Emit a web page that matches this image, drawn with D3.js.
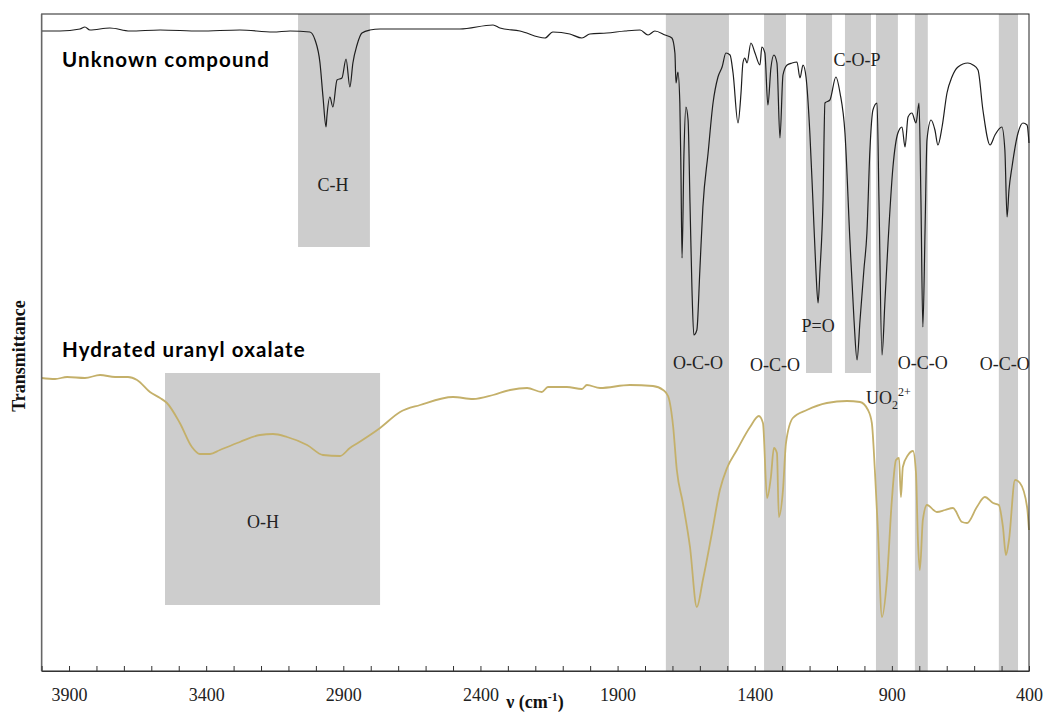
<!DOCTYPE html>
<html>
<head>
<meta charset="utf-8">
<script src="https://cdn.jsdelivr.net/npm/d3@7"></script>
<style>
  body { margin: 0; background: #fff; }
  svg { display: block; }
  .tick text { font-family: "Liberation Serif", "Times New Roman", serif; font-size: 18px; }
</style>
</head>
<body>
<svg width="1044" height="718"></svg>
<script>
// wavenumber (cm-1), transmittance (arbitrary units)
var unknownCompound = [
  [4000,640],[3933,640],[3860,642],[3842,644],[3824,641],[3751,643],[3678,640],[3568,641],
  [3423,640],[3277,641],[3156,639],[3094,640],[3022,639],[3003,631],[2985,608],[2974,574],
  [2963,544],[2960,554],[2949,574],[2938,564],[2923,591],[2905,593],[2890,612],[2876,584],
  [2865,608],[2850,626],[2832,638],[2803,641],[2766,642],[2620,642],[2475,642],[2354,646],
  [2329,643],[2256,640],[2165,633],[2136,639],[2074,637],[2030,633],[2001,637],[1939,638],
  [1873,640],[1818,641],[1789,636],[1764,640],[1727,636],[1702,633],[1691,618],[1687,588],
  [1680,599],[1673,568],[1669,501],[1665,413],[1658,518],[1651,564],[1643,551],[1636,468],
  [1629,384],[1622,336],[1611,341],[1600,401],[1589,464],[1570,518],[1552,568],[1534,594],
  [1519,604],[1505,618],[1490,616],[1479,598],[1461,548],[1450,578],[1443,608],[1436,613],
  [1428,608],[1414,628],[1399,618],[1381,606],[1374,624],[1363,618],[1352,566],[1341,603],
  [1330,616],[1319,608],[1308,533],[1297,596],[1282,606],[1264,608],[1246,609],[1235,593],
  [1224,606],[1213,594],[1199,538],[1188,471],[1177,401],[1169,368],[1162,401],[1151,471],
  [1144,568],[1126,571],[1104,594],[1089,578],[1071,538],[1053,431],[1038,351],[1027,311],
  [1016,351],[1002,401],[991,438],[980,521],[969,561],[954,568],[947,471],[936,316],
  [925,371],[914,428],[896,504],[878,538],[863,544],[852,524],[841,554],[827,558],
  [812,548],[801,568],[794,471],[787,344],[779,441],[772,531],[757,551],[743,541],
  [732,526],[717,544],[699,578],[681,594],[659,604],[623,608],[604,606],[586,601],
  [568,561],[542,526],[524,536],[499,544],[488,521],[480,454],[473,481],[462,504],
  [440,538],[422,548],[407,546],[400,528]
];

var uranylOxalate = [
  [4000,293],[3951,292],[3907,294],[3842,293],[3787,296],[3732,294],[3685,294],[3652,291],
  [3605,279],[3568,273],[3543,268],[3496,248],[3452,224],[3423,217],[3386,217],[3350,221],
  [3277,229],[3204,236],[3156,237],[3105,234],[3032,226],[2974,216],[2912,215],[2876,223],
  [2847,228],[2766,243],[2693,259],[2620,266],[2500,274],[2427,272],[2354,276],[2292,281],
  [2230,283],[2176,279],[2154,284],[2085,284],[2030,282],[2012,286],[1964,283],[1855,286],
  [1771,285],[1734,281],[1716,275],[1698,246],[1684,201],[1662,168],[1636,124],[1611,64],
  [1589,91],[1556,138],[1527,181],[1501,203],[1465,221],[1417,244],[1385,255],[1370,248],
  [1355,173],[1341,194],[1330,223],[1319,218],[1312,154],[1297,181],[1286,228],[1261,253],
  [1210,261],[1137,268],[1064,270],[1016,269],[987,261],[973,248],[962,201],[951,141],
  [936,54],[918,91],[900,171],[885,211],[874,213],[867,174],[860,204],[841,216],
  [823,220],[812,198],[805,131],[798,101],[787,151],[772,166],[736,159],[706,161],
  [677,163],[644,149],[626,148],[590,164],[561,174],[531,168],[510,166],[495,144],
  [484,116],[473,131],[451,191],[433,188],[407,164],[400,141]
];

// shaded assignment bands: [from, to, lowT, highT] (null = full height)
var bands = [
  [3065, 2803, 424, null],
  [3550, 2766, 66, 298],
  [1724, 1494, null, null],
  [1366, 1286, null, null],
  [1213, 1118, 298, null],
  [1071, 976, 298, null],
  [958, 878, null, null],
  [816, 769, null, null],
  [510, 440, null, null]
];
var bandLabels = ["C-H", "O-H", "O-C-O", "O-C-O", "P=O", "C-O-P", "UO2", "O-C-O", "O-C-O"];

var tickLabels = [3900, 3400, 2900, 2400, 1900, 1400, 900, 400];
var seriesNames = ["Unknown compound", "Hydrated uranyl oxalate"];

var svg = d3.select("svg");
var margin = { left: 42, right: 15, top: 14, bottom: 47 };
var w = 1044, h = 718;
var serif = "'Liberation Serif', 'Times New Roman', serif";

var x = d3.scaleLinear().domain([4000, 400]).range([41.6, 1029]);
var y = d3.scaleLinear().domain([0, 657]).range([h - margin.bottom, margin.top]);

var yTop = y(657), yBottom = y(0);

// bands
svg.append("g").selectAll("rect")
  .data(bands)
  .enter()
  .append("rect")
  .attr("x", function(d) { return x(d[0]); })
  .attr("width", function(d) { return x(d[1]) - x(d[0]); })
  .attr("y", function(d) { return d[3] === null ? yTop : y(d[3]); })
  .attr("height", function(d) {
    var y0 = d[3] === null ? yTop : y(d[3]);
    var y1 = d[2] === null ? yBottom : y(d[2]);
    return y1 - y0;
  })
  .attr("fill", "#cdcdcd");

// label anchors in data units [wavenumber, T]
var labelAt = [[2938,480],[3193,143],[1607,302],[1326,300],[1169,339],[1027,605],[994,267],[787,302],[488,301]];

var lab = svg.append("g")
  .attr("font-family", serif)
  .attr("font-size", 18)
  .attr("fill", "#222");

bandLabels.forEach(function(t, i) {
  var p = labelAt[i];
  var txt = lab.append("text")
    .attr("x", x(p[0]))
    .attr("y", y(p[1]));
  if (t === "UO2") {
    txt.attr("text-anchor", "start");
    txt.append("tspan").text("UO");
    txt.append("tspan").attr("dy", 5).attr("font-size", 12).text("2");
    txt.append("tspan").attr("dy", -13).attr("font-size", 12).text("2+");
  } else {
    txt.attr("text-anchor", "middle").text(t);
  }
});

// spectra
var line = d3.line()
  .curve(d3.curveMonotoneX)
  .x(function(d) { return x(d[0]); })
  .y(function(d) { return y(d[1]); });

svg.append("path").datum(uranylOxalate)
  .attr("d", line)
  .attr("fill", "none")
  .attr("stroke", "#c4b06a")
  .attr("stroke-width", 1.8);

svg.append("path").datum(unknownCompound)
  .attr("d", line)
  .attr("fill", "none")
  .attr("stroke", "#1e1e1e")
  .attr("stroke-width", 1.2);

// series names
svg.append("g")
  .attr("font-family", "Lato, 'Open Sans', sans-serif")
  .attr("font-weight", "bold")
  .attr("font-size", 20.5)
  .attr("letter-spacing", 1.1)
  .selectAll("text")
  .data(seriesNames)
  .enter()
  .append("text")
  .attr("x", 62)
  .attr("y", function(d, i) { return i === 0 ? 67 : 357; })
  .text(function(d) { return d; });

// frame
svg.append("rect")
  .attr("x", x(4000)).attr("y", yTop)
  .attr("width", x(400) - x(4000)).attr("height", yBottom - yTop)
  .attr("fill", "none")
  .attr("stroke", "#222")
  .attr("stroke-width", 1);
svg.append("line")
  .attr("x1", x(4000)).attr("x2", x(4000))
  .attr("y1", yTop).attr("y2", yBottom)
  .attr("stroke", "#666").attr("stroke-width", 1.5);

// x axis
var xAxis = d3.axisBottom(x)
  .tickValues(d3.range(400, 4001, 100))
  .tickSizeInner(-5)
  .tickSizeOuter(0)
  .tickPadding(17)
  .tickFormat(function(d) { return tickLabels.indexOf(d) >= 0 ? d : ""; });

var gx = svg.append("g")
  .attr("transform", "translate(0," + yBottom + ")")
  .call(xAxis);
gx.select(".domain").attr("stroke", "#333");
gx.selectAll(".tick line").attr("stroke", "#333");
gx.selectAll(".tick text").attr("fill", "#222");

// axis titles
var xt = svg.append("text")
  .attr("x", 535)
  .attr("y", 708)
  .attr("text-anchor", "middle")
  .attr("font-family", serif)
  .attr("font-weight", "bold")
  .attr("font-size", 18)
  .attr("fill", "#111");
xt.append("tspan").text("\u03bd (cm");
xt.append("tspan").attr("dy", -7).attr("font-size", 12).text("-1");
xt.append("tspan").attr("dy", 7).text(")");

svg.append("text")
  .attr("transform", "translate(25,356) rotate(-90)")
  .attr("text-anchor", "middle")
  .attr("font-family", serif)
  .attr("font-weight", "bold")
  .attr("font-size", 18)
  .attr("fill", "#111")
  .text("Transmittance");
</script>
</body>
</html>
